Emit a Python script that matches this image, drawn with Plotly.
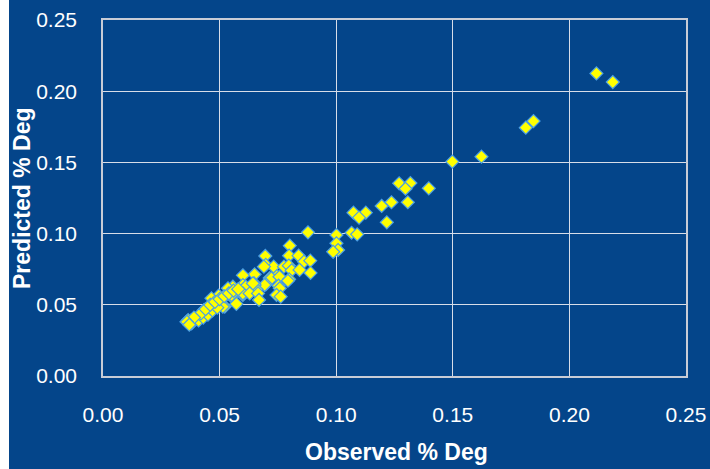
import plotly.graph_objects as go

observed = [
    0.2186, 0.2116, 0.1846, 0.1813, 0.1623, 0.1498, 0.1397, 0.1270, 0.1318, 0.1297,
    0.1195, 0.1237, 0.1307, 0.1074, 0.1127, 0.1098, 0.1217, 0.1066, 0.1090, 0.1001,
    0.1001, 0.1008, 0.0987, 0.0879,
    0.0801, 0.0696, 0.0798, 0.0839, 0.0862, 0.0889, 0.0698, 0.0732, 0.0776, 0.0690,
    0.0797, 0.0809, 0.0843, 0.0890, 0.0746, 0.0650, 0.0600, 0.0715, 0.0722, 0.0757,
    0.0798, 0.0793, 0.0698, 0.0693, 0.0648, 0.0650, 0.0753, 0.0658, 0.0758, 0.0600,
    0.0557, 0.0612, 0.0643, 0.0536, 0.0552, 0.0600, 0.0600, 0.0629, 0.0665, 0.0496,
    0.0551, 0.0514, 0.0465, 0.0744, 0.0762, 0.0669, 0.0572, 0.0522, 0.0514, 0.0472,
    0.0436, 0.0433, 0.0400, 0.0379, 0.0365, 0.0358,
    0.0380, 0.0410, 0.0430, 0.0450, 0.0470, 0.0490, 0.0420, 0.0390, 0.0440, 0.0460,
    0.0480, 0.0500, 0.0520, 0.0540, 0.0560, 0.0580, 0.0360, 0.0370,
]
predicted = [
    0.2064, 0.2125, 0.1790, 0.1744, 0.1540, 0.1505, 0.1318, 0.1353, 0.1355, 0.1315,
    0.1194, 0.1220, 0.1220, 0.1147, 0.1147, 0.1112, 0.1079, 0.1006, 0.0995, 0.0990,
    0.0932, 0.0885, 0.0872, 0.1009,
    0.0915, 0.0843, 0.0845, 0.0845, 0.0803, 0.0810, 0.0780, 0.0768, 0.0768, 0.0768,
    0.0775, 0.0742, 0.0745, 0.0724, 0.0702, 0.0714, 0.0707, 0.0688, 0.0686, 0.0697,
    0.0679, 0.0669, 0.0644, 0.0639, 0.0651, 0.0639, 0.0634, 0.0609, 0.0616, 0.0639,
    0.0627, 0.0627, 0.0650, 0.0616, 0.0557, 0.0569, 0.0580, 0.0580, 0.0580, 0.0564,
    0.0569, 0.0546, 0.0546, 0.0569, 0.0557, 0.0534, 0.0506, 0.0487, 0.0487, 0.0482,
    0.0452, 0.0463, 0.0405, 0.0393, 0.0393, 0.0381,
    0.0370, 0.0390, 0.0410, 0.0430, 0.0460, 0.0480, 0.0440, 0.0410, 0.0470, 0.0500,
    0.0520, 0.0540, 0.0560, 0.0580, 0.0600, 0.0610, 0.0380, 0.0360,
]
tick_vals = [0.00, 0.05, 0.10, 0.15, 0.20, 0.25]
tick_text = ["0.00", "0.05", "0.10", "0.15", "0.20", "0.25"]

BG = "#04458a"
GRID = "#d8dde8"
FONT = "Liberation Sans, Arial, sans-serif"

fig = go.Figure()
fig.add_trace(go.Scatter(
    x=observed, y=predicted, mode="markers",
    marker=dict(symbol="diamond", size=10, color="#ffff00",
                line=dict(color="#4a9ee6", width=1.2)),
    showlegend=False, hoverinfo="x+y",
))

W, H = 710, 469
L, R, T, B = 103, 24, 20, 93
pw, ph = W - L - R, H - T - B

axis_common = dict(
    range=[0, 0.25], tickvals=tick_vals, ticktext=tick_text,
    showgrid=True, gridcolor=GRID, gridwidth=1.3,
    zeroline=False, showline=True, linecolor="#c8ccd6", linewidth=1.5, mirror=True,
    ticks="", tickfont=dict(family=FONT, size=21, color="#ffffff"),
    fixedrange=True, automargin=False,
)
fig.update_layout(
    width=W, height=H, autosize=False,
    margin=dict(l=L, r=R, t=T, b=B, pad=0, autoexpand=False),
    paper_bgcolor=BG, plot_bgcolor=BG,
    xaxis=dict(**axis_common, ticklabelstandoff=19),
    yaxis=dict(**axis_common, ticklabelstandoff=20),
    shapes=[dict(type="rect", xref="paper", yref="paper",
                 x0=-L / pw, x1=-(L - 9) / pw, y0=-B / ph, y1=(ph + T) / ph,
                 fillcolor="#ffffff", line=dict(width=0), layer="below")],
    annotations=[
        dict(text="<b>Observed % Deg</b>", xref="paper", yref="paper",
             x=(396 - L) / pw, y=-(452 - (T + ph)) / ph, showarrow=False,
             xanchor="center", yanchor="middle",
             font=dict(family=FONT, size=23, color="#ffffff")),
        dict(text="<b>Predicted % Deg</b>", xref="paper", yref="paper",
             x=-(L - 22) / pw, y=(T + ph - 198) / ph, showarrow=False,
             xanchor="center", yanchor="middle", textangle=-90,
             font=dict(family=FONT, size=23, color="#ffffff")),
    ],
)
fig.write_html("out.html")
